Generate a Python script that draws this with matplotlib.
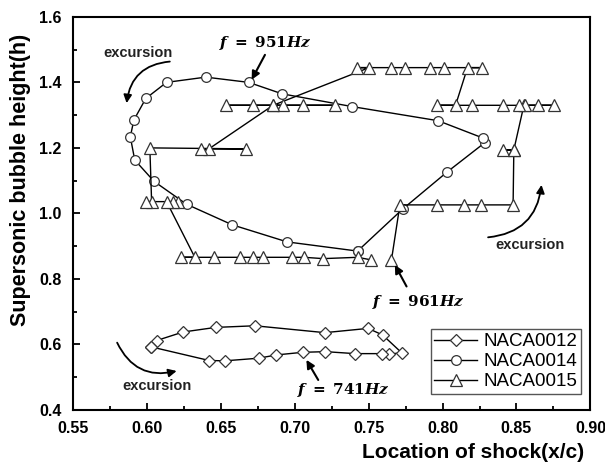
import matplotlib
matplotlib.use('Agg')
import matplotlib.pyplot as plt

plt.rcParams['font.family'] = ['Liberation Sans', 'DejaVu Sans']
plt.rcParams['mathtext.fontset'] = 'dejavuserif'

# NACA0012 (diamonds), closed loop
naca12_x = [0.6027, 0.6068, 0.6247, 0.6466, 0.6732, 0.7205, 0.7497, 0.7595, 0.7723,
            0.7640, 0.7588, 0.7408, 0.7209, 0.7054, 0.6878, 0.6757, 0.6529, 0.6423, 0.6027]
naca12_y = [0.593, 0.612, 0.638, 0.652, 0.657, 0.636, 0.649, 0.629, 0.575,
            0.570, 0.572, 0.572, 0.578, 0.576, 0.568, 0.558, 0.550, 0.551, 0.593]

# NACA0014 (circles), closed loop
naca14_x = [0.7426, 0.7730, 0.8030, 0.8286, 0.8274, 0.7970, 0.7390, 0.6916, 0.6690, 0.6400,
            0.6135, 0.5995, 0.5914, 0.5890, 0.5920, 0.6050, 0.6270, 0.6580, 0.6950, 0.7426]
naca14_y = [0.885, 1.013, 1.126, 1.216, 1.230, 1.283, 1.326, 1.365, 1.400, 1.416,
            1.400, 1.351, 1.285, 1.234, 1.163, 1.098, 1.028, 0.965, 0.913, 0.885]

# NACA0015 (triangles), shock position history
naca15_x = [0.7655, 0.7712, 0.7960, 0.8146, 0.8257, 0.8477, 0.8482, 0.8410, 0.8482,
            0.8550, 0.8754, 0.8646, 0.8556, 0.8516, 0.8410, 0.8196, 0.7960, 0.8088,
            0.8169, 0.8268, 0.8009, 0.7914, 0.7747, 0.7655, 0.7419, 0.7504,
            0.6855, 0.7058, 0.7272, 0.6919, 0.6720, 0.6540, 0.6855,
            0.6421, 0.6371, 0.6671, 0.6022,
            0.6034, 0.5995, 0.6214, 0.6180, 0.6135,
            0.6326, 0.6232, 0.6455, 0.6630, 0.6720, 0.6784, 0.6984, 0.7065, 0.7193, 0.7426, 0.7520]
naca15_y = [0.858, 1.026, 1.026, 1.026, 1.026, 1.026, 1.194, 1.194, 1.194,
            1.330, 1.330, 1.330, 1.330, 1.330, 1.330, 1.330, 1.330, 1.330,
            1.445, 1.445, 1.445, 1.445, 1.445, 1.445, 1.445, 1.445,
            1.330, 1.330, 1.330, 1.330, 1.330, 1.330, 1.330,
            1.197, 1.197, 1.197, 1.200,
            1.036, 1.036, 1.036, 1.036, 1.036,
            0.866, 0.866, 0.866, 0.866, 0.866, 0.866, 0.866, 0.866, 0.862, 0.866, 0.858]

fig, ax = plt.subplots(figsize=(6.05, 4.68), dpi=100)
fig.subplots_adjust(left=0.120, right=0.976, bottom=0.124, top=0.964)

mk = dict(color='k', lw=1.0, markerfacecolor='white', markeredgecolor='#333333', markeredgewidth=0.9)
ax.plot(naca12_x, naca12_y, marker='D', markersize=6.5, label='NACA0012', **mk)
ax.plot(naca14_x, naca14_y, marker='o', markersize=7, label='NACA0014', **mk)
ax.plot(naca15_x, naca15_y, marker='^', markersize=8, label='NACA0015', **mk)

ax.set_xlim(0.55, 0.90)
ax.set_ylim(0.4, 1.6)
ax.set_xticks([0.55, 0.60, 0.65, 0.70, 0.75, 0.80, 0.85, 0.90])
ax.set_xticks([0.575, 0.625, 0.675, 0.725, 0.775, 0.825, 0.875], minor=True)
ax.set_yticks([0.4, 0.6, 0.8, 1.0, 1.2, 1.4, 1.6])
ax.set_yticks([0.5, 0.7, 0.9, 1.1, 1.3, 1.5], minor=True)
ax.xaxis.set_major_formatter(plt.FormatStrFormatter('%.2f'))
ax.yaxis.set_major_formatter(plt.FormatStrFormatter('%.1f'))
ax.tick_params(which='both', direction='in', top=False, right=False, width=1.3)
ax.tick_params(which='major', length=5, labelsize=11.5, pad=8)
ax.tick_params(which='minor', length=3)
for lab in ax.get_xticklabels() + ax.get_yticklabels():
    lab.set_fontweight('bold')
for sp in ax.spines.values():
    sp.set_linewidth(1.5)

ax.set_xlabel('Location of shock(x/c)', fontsize=15, fontweight='bold')
ax.set_ylabel('Supersonic bubble height(h)', fontsize=15.5, fontweight='bold')
ax.xaxis.set_label_coords(0.773, -0.085)
ax.yaxis.set_label_coords(-0.080, 0.585)

# frequency labels with arrows
arr = dict(arrowstyle='-|>', color='k', lw=1.5, mutation_scale=12, shrinkA=0, shrinkB=0)
ax.annotate('', xy=(0.671, 1.408), xytext=(0.680, 1.484), arrowprops=arr)
ax.text(0.680, 1.521, r'$\boldsymbol{f}\ \mathbf{=\ 951}\boldsymbol{Hz}$', fontsize=11,
        ha='center', va='center')
ax.annotate('', xy=(0.7678, 0.843), xytext=(0.7757, 0.777), arrowprops=arr)
ax.text(0.784, 0.731, r'$\boldsymbol{f}\ \mathbf{=\ 961}\boldsymbol{Hz}$', fontsize=11,
        ha='center', va='center')
ax.annotate('', xy=(0.708, 0.553), xytext=(0.716, 0.4916), arrowprops=arr)
ax.text(0.7327, 0.461, r'$\boldsymbol{f}\ \mathbf{=\ 741}\boldsymbol{Hz}$', fontsize=11,
        ha='center', va='center')

# excursion arrows
ex = dict(fontsize=10.5, fontweight='bold', color='#222222', ha='center', va='center')
curve = dict(arrowstyle='-|>', color='k', lw=1.3, mutation_scale=12, shrinkA=0, shrinkB=0,
             connectionstyle='arc3,rad=0.4')
ax.text(0.5945, 1.489, 'excursion', **ex)
ax.annotate('', xy=(0.5865, 1.3365), xytext=(0.6157, 1.4635), arrowprops=curve)
ax.text(0.859, 0.904, 'excursion', **ex)
ax.annotate('', xy=(0.8669, 1.087), xytext=(0.8308, 0.927), arrowprops=curve)
ax.text(0.6073, 0.474, 'excursion', **ex)
ax.annotate('', xy=(0.6203, 0.519), xytext=(0.5801, 0.6055), arrowprops=curve)

leg = ax.legend(loc='lower right', bbox_to_anchor=(0.981, 0.041), borderaxespad=0,
                fontsize=13.5, fancybox=False, handlelength=2.3, handletextpad=0.3,
                labelspacing=0.15, borderpad=0.2, framealpha=1)
leg.get_frame().set_edgecolor('#555555')
leg.get_frame().set_linewidth(1.0)

fig.savefig('out.png', dpi=100)
